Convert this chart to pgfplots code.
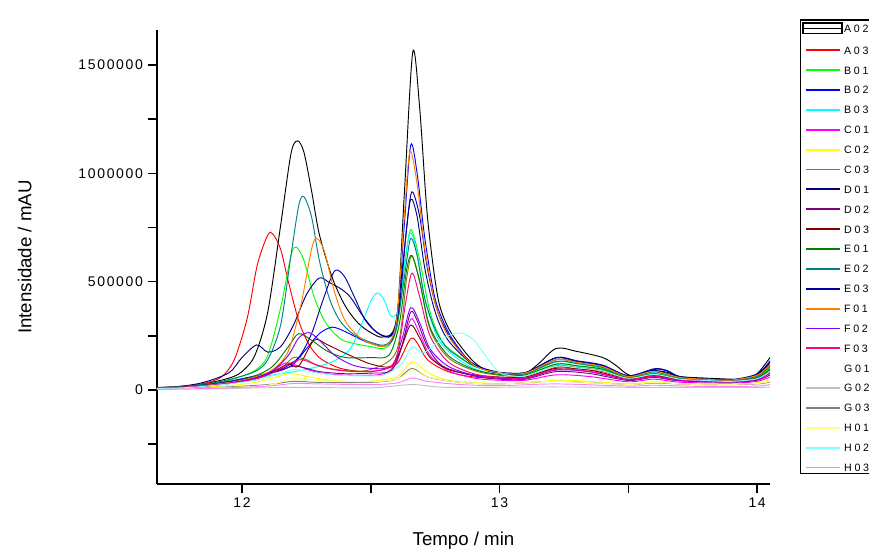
\documentclass[border=0pt]{standalone}
\usepackage{fontspec}
\setmainfont{Liberation Sans}
\newfontfamily\tickfont[LetterSpace=12]{Liberation Sans}
\newfontfamily\legfont[LetterSpace=25]{Liberation Sans}
\usepackage{pgfplots}
\pgfplotsset{compat=1.18}
\definecolor{cA02}{HTML}{000000}
\definecolor{cA03}{HTML}{FF0000}
\definecolor{cB01}{HTML}{00FF00}
\definecolor{cB02}{HTML}{0000FF}
\definecolor{cB03}{HTML}{00FFFF}
\definecolor{cC01}{HTML}{FF00FF}
\definecolor{cC02}{HTML}{FFFF00}
\definecolor{cC03}{HTML}{808000}
\definecolor{cD01}{HTML}{000080}
\definecolor{cD02}{HTML}{800080}
\definecolor{cD03}{HTML}{800000}
\definecolor{cE01}{HTML}{008000}
\definecolor{cE02}{HTML}{008080}
\definecolor{cE03}{HTML}{0000A0}
\definecolor{cF01}{HTML}{FF8000}
\definecolor{cF02}{HTML}{8000FF}
\definecolor{cF03}{HTML}{FF0080}
\definecolor{cG01}{HTML}{FFFFFF}
\definecolor{cG02}{HTML}{C0C0C0}
\definecolor{cG03}{HTML}{808080}
\definecolor{cH01}{HTML}{FFFF80}
\definecolor{cH02}{HTML}{80FFFF}
\definecolor{cH03}{HTML}{FF80FF}
\begin{document}
\begin{tikzpicture}
\begin{axis}[
  scale only axis, width=459.75pt, height=340.5pt,
  xmin=11.67, xmax=14.05, ymin=-434, ymax=1662,
  axis x line=bottom, axis y line=left,
  axis line style={-, line width=1.2pt},
  tick align=outside, major tick length=7pt,
  tick style={line width=1.2pt, black},
  xtick={12,12.5,13,13.5,14}, xticklabels={12,,13,,14},
  ytick={-250,0,250,500,750,1000,1250,1500},
  yticklabels={,0,,500000,,1000000,,1500000},
  tick label style={font=\tickfont\fontsize{10.5}{12}\selectfont},
  xlabel={Tempo / min}, ylabel={Intensidade / mAU},
  every axis x label/.style={at={(axis description cs:0.5,-0.1344)}, anchor=base, font=\fontsize{14}{16}\selectfont},
  every axis y label/.style={at={(axis description cs:-0.216,0.5)}, rotate=90, anchor=center, font=\fontsize{14}{16}\selectfont},
  every axis plot/.append style={line width=0.7pt, smooth, no markers},
  legend image code/.code={\draw[#1, line width=1.4pt] (0cm,0cm) -- (0.9cm,0cm);},
  legend cell align=left,
  legend style={at={(axis description cs:1,1)}, anchor=north west, xshift=22.5pt, yshift=8pt,
    draw=black, line width=1pt, inner xsep=1pt, inner ysep=1.5pt,
    font=\legfont\fontsize{8}{9}\selectfont,
    nodes={inner xsep=1pt, inner ysep=0pt, text height=5.8pt, text depth=0pt},
    row sep=9.1pt},
]
\addplot[cA02, legend image code/.code={\draw[black,line width=1.3pt] (-0.08cm,-0.14cm) rectangle (0.95cm,0.14cm); \draw[black,line width=0.8pt] (-0.08cm,0cm) -- (0.95cm,0cm);}] coordinates {(11.67,12)(11.75,16)(11.85,28)(11.95,55)(12.0,85)(12.05,160)(12.1,360)(12.15,760)(12.19,1090)(12.215,1150)(12.24,1100)(12.27,920)(12.3,720)(12.35,520)(12.4,390)(12.45,310)(12.5,265)(12.55,245)(12.6,320)(12.63,900)(12.663,1560)(12.69,1300)(12.72,800)(12.76,430)(12.8,290)(12.85,200)(12.9,130)(12.95,90)(13.0,80)(13.1,80)(13.15,120)(13.22,192)(13.3,178)(13.4,150)(13.45,115)(13.5,70)(13.55,68)(13.6,88)(13.65,82)(13.7,62)(13.8,55)(13.9,50)(13.95,50)(14.0,75)(14.05,150)};
\addlegendentry{A02}
\addplot[cA03] coordinates {(11.67,10)(11.75,15)(11.85,30)(11.92,60)(11.97,140)(12.02,330)(12.06,580)(12.1,715)(12.12,720)(12.15,650)(12.18,500)(12.22,320)(12.26,210)(12.3,150)(12.35,115)(12.4,95)(12.5,85)(12.6,120)(12.66,240)(12.72,140)(12.8,85)(12.9,60)(13.0,55)(13.1,55)(13.22,105)(13.3,98)(13.4,85)(13.5,55)(13.6,70)(13.7,50)(13.8,45)(13.9,40)(14.0,55)(14.05,95)};
\addlegendentry{A03}
\addplot[cB01] coordinates {(11.67,10)(11.75,14)(11.85,25)(11.95,45)(12.05,90)(12.1,160)(12.15,380)(12.19,620)(12.21,660)(12.24,600)(12.28,430)(12.32,320)(12.36,260)(12.4,225)(12.5,200)(12.56,195)(12.6,280)(12.63,560)(12.655,740)(12.69,600)(12.73,360)(12.78,220)(12.85,150)(12.9,110)(13.0,80)(13.1,75)(13.22,130)(13.3,122)(13.4,100)(13.5,60)(13.6,76)(13.7,55)(13.8,50)(13.9,45)(14.0,62)(14.05,105)};
\addlegendentry{B01}
\addplot[cB02] coordinates {(11.67,8)(11.75,12)(11.85,22)(11.95,40)(12.05,65)(12.15,90)(12.2,120)(12.25,190)(12.3,260)(12.35,290)(12.4,270)(12.45,240)(12.5,215)(12.56,205)(12.6,300)(12.63,760)(12.655,1130)(12.68,1000)(12.71,700)(12.75,420)(12.8,270)(12.85,180)(12.9,115)(13.0,78)(13.1,76)(13.22,140)(13.3,128)(13.4,110)(13.5,62)(13.6,95)(13.65,88)(13.7,60)(13.8,50)(13.9,46)(14.0,68)(14.05,118)};
\addlegendentry{B02}
\addplot[cB03] coordinates {(11.67,8)(11.8,15)(11.95,35)(12.05,55)(12.15,75)(12.25,95)(12.35,130)(12.42,190)(12.47,320)(12.5,410)(12.525,448)(12.55,420)(12.58,340)(12.61,380)(12.635,620)(12.655,725)(12.68,630)(12.71,420)(12.76,240)(12.82,160)(12.9,100)(13.0,70)(13.1,70)(13.22,118)(13.3,110)(13.4,95)(13.5,55)(13.6,80)(13.7,52)(13.8,45)(13.9,40)(14.0,52)(14.05,88)};
\addlegendentry{B03}
\addplot[cC01] coordinates {(11.67,5)(11.8,12)(11.95,30)(12.05,55)(12.12,90)(12.17,125)(12.22,110)(12.28,85)(12.35,72)(12.45,68)(12.55,75)(12.6,130)(12.64,280)(12.66,330)(12.69,260)(12.73,160)(12.8,90)(12.9,55)(13.0,45)(13.1,45)(13.22,70)(13.35,62)(13.5,38)(13.6,50)(13.7,36)(13.9,32)(14.0,40)(14.05,60)};
\addlegendentry{C01}
\addplot[cC02] coordinates {(11.67,4)(11.8,10)(11.95,20)(12.05,35)(12.12,55)(12.18,75)(12.22,70)(12.3,52)(12.4,40)(12.5,40)(12.6,60)(12.645,115)(12.665,130)(12.69,110)(12.73,75)(12.8,45)(12.9,35)(13.0,30)(13.1,30)(13.22,45)(13.35,40)(13.5,28)(13.6,38)(13.7,28)(13.9,26)(14.0,33)(14.05,48)};
\addlegendentry{C02}
\addplot[cC03] coordinates {(11.67,8)(11.8,15)(11.95,35)(12.05,60)(12.15,100)(12.2,150)(12.25,140)(12.3,110)(12.4,90)(12.5,95)(12.6,180)(12.64,520)(12.66,620)(12.69,500)(12.73,280)(12.8,150)(12.9,90)(13.0,68)(13.1,66)(13.22,112)(13.3,104)(13.4,90)(13.5,55)(13.6,72)(13.7,50)(13.8,44)(13.9,40)(14.0,55)(14.05,92)};
\addlegendentry{C03}
\addplot[cD01] coordinates {(11.67,10)(11.75,15)(11.85,35)(11.95,80)(12.0,150)(12.057,208)(12.1,175)(12.15,200)(12.2,300)(12.25,440)(12.3,517)(12.34,495)(12.38,470)(12.42,430)(12.47,340)(12.52,270)(12.57,250)(12.6,330)(12.635,700)(12.655,880)(12.68,800)(12.71,560)(12.75,360)(12.8,230)(12.9,115)(13.0,80)(13.1,80)(13.22,148)(13.3,132)(13.4,112)(13.5,66)(13.6,90)(13.7,60)(13.8,50)(13.9,45)(14.0,72)(14.05,128)};
\addlegendentry{D01}
\addplot[cD02] coordinates {(11.67,6)(11.8,12)(11.95,30)(12.05,50)(12.12,80)(12.2,110)(12.25,100)(12.3,85)(12.4,75)(12.5,78)(12.58,90)(12.62,200)(12.655,360)(12.68,320)(12.72,200)(12.78,110)(12.9,65)(13.0,50)(13.1,50)(13.22,85)(13.35,76)(13.5,44)(13.6,58)(13.7,42)(13.9,36)(14.0,45)(14.05,70)};
\addlegendentry{D02}
\addplot[cD03] coordinates {(11.67,8)(11.8,14)(11.95,32)(12.05,55)(12.12,85)(12.18,120)(12.22,110)(12.28,230)(12.33,210)(12.4,170)(12.5,120)(12.58,110)(12.62,200)(12.655,300)(12.69,240)(12.73,150)(12.8,95)(12.9,70)(13.0,60)(13.1,60)(13.22,100)(13.35,92)(13.5,52)(13.6,66)(13.7,48)(13.9,40)(14.0,52)(14.05,85)};
\addlegendentry{D03}
\addplot[cE01] coordinates {(11.67,9)(11.8,16)(11.95,38)(12.05,65)(12.12,110)(12.18,200)(12.22,260)(12.27,230)(12.33,180)(12.4,150)(12.5,150)(12.57,160)(12.61,300)(12.64,560)(12.66,620)(12.69,500)(12.73,290)(12.8,160)(12.9,95)(13.0,72)(13.1,70)(13.22,120)(13.3,112)(13.4,96)(13.5,58)(13.6,75)(13.7,52)(13.8,46)(13.9,42)(14.0,58)(14.05,98)};
\addlegendentry{E01}
\addplot[cE02] coordinates {(11.67,10)(11.75,14)(11.85,26)(11.95,48)(12.05,85)(12.1,140)(12.15,300)(12.19,620)(12.22,850)(12.24,893)(12.27,800)(12.3,600)(12.34,420)(12.38,320)(12.43,260)(12.5,220)(12.56,210)(12.6,290)(12.635,560)(12.655,700)(12.68,620)(12.71,420)(12.75,280)(12.8,190)(12.9,112)(13.0,80)(13.1,76)(13.22,132)(13.3,122)(13.4,104)(13.5,62)(13.6,84)(13.7,56)(13.8,50)(13.9,45)(14.0,64)(14.05,110)};
\addlegendentry{E02}
\addplot[cE03] coordinates {(11.67,9)(11.8,16)(11.95,38)(12.05,60)(12.15,95)(12.22,150)(12.27,260)(12.31,400)(12.35,530)(12.37,554)(12.4,520)(12.44,420)(12.48,320)(12.53,260)(12.58,250)(12.61,380)(12.64,760)(12.66,915)(12.69,800)(12.72,560)(12.76,360)(12.82,220)(12.9,120)(13.0,82)(13.1,80)(13.22,150)(13.3,135)(13.4,115)(13.5,66)(13.6,98)(13.65,90)(13.7,62)(13.8,52)(13.9,48)(14.0,74)(14.05,135)};
\addlegendentry{E03}
\addplot[cF01] coordinates {(11.67,9)(11.8,15)(11.95,35)(12.05,60)(12.12,95)(12.18,180)(12.23,400)(12.27,650)(12.29,700)(12.32,640)(12.36,450)(12.4,320)(12.45,250)(12.5,215)(12.56,205)(12.6,320)(12.63,800)(12.652,1100)(12.68,950)(12.71,650)(12.75,400)(12.8,250)(12.9,115)(13.0,80)(13.1,78)(13.22,140)(13.3,128)(13.4,108)(13.5,62)(13.6,86)(13.7,58)(13.8,50)(13.9,46)(14.0,68)(14.05,116)};
\addlegendentry{F01}
\addplot[cF02] coordinates {(11.67,7)(11.8,13)(11.95,32)(12.05,55)(12.12,90)(12.18,160)(12.22,240)(12.26,265)(12.3,230)(12.36,160)(12.43,115)(12.5,100)(12.58,110)(12.62,230)(12.655,380)(12.69,310)(12.73,190)(12.8,110)(12.9,68)(13.0,55)(13.1,54)(13.22,92)(13.35,84)(13.5,48)(13.6,62)(13.7,44)(13.9,38)(14.0,48)(14.05,78)};
\addlegendentry{F02}
\addplot[cF03] coordinates {(11.67,7)(11.8,13)(11.95,30)(12.05,50)(12.12,80)(12.18,120)(12.23,140)(12.28,120)(12.35,95)(12.45,85)(12.55,95)(12.6,150)(12.635,400)(12.66,540)(12.69,430)(12.73,250)(12.8,130)(12.9,75)(13.0,58)(13.1,56)(13.22,95)(13.35,86)(13.5,50)(13.6,64)(13.7,46)(13.9,40)(14.0,50)(14.05,80)};
\addlegendentry{F03}
\addplot[cG01] coordinates {(11.67,3)(12.0,10)(12.66,40)(13.2,20)(14.05,25)};
\addlegendentry{G01}
\addplot[cG02] coordinates {(11.67,3)(11.9,6)(12.2,12)(12.5,10)(12.66,25)(12.8,12)(13.2,14)(13.6,12)(14.0,12)(14.05,15)};
\addlegendentry{G02}
\addplot[cG03] coordinates {(11.67,5)(11.9,12)(12.1,25)(12.2,40)(12.3,35)(12.5,35)(12.6,50)(12.66,100)(12.72,60)(12.85,35)(13.0,28)(13.22,40)(13.5,26)(13.6,32)(13.8,24)(14.0,28)(14.05,38)};
\addlegendentry{G03}
\addplot[cH01] coordinates {(11.67,4)(11.9,10)(12.1,22)(12.2,55)(12.3,45)(12.5,38)(12.6,50)(12.665,90)(12.72,60)(12.85,35)(13.0,28)(13.22,40)(13.5,26)(13.6,34)(13.8,24)(14.0,30)(14.05,42)};
\addlegendentry{H01}
\addplot[cH02] coordinates {(11.67,6)(11.8,12)(11.95,28)(12.05,45)(12.15,75)(12.2,95)(12.26,85)(12.35,70)(12.45,65)(12.55,70)(12.62,120)(12.66,200)(12.7,170)(12.75,210)(12.8,250)(12.85,263)(12.9,230)(12.95,150)(13.0,80)(13.05,65)(13.1,65)(13.22,110)(13.3,102)(13.4,88)(13.5,54)(13.6,72)(13.7,50)(13.8,44)(13.9,40)(14.0,52)(14.05,86)};
\addlegendentry{H02}
\addplot[cH03] coordinates {(11.67,3)(11.9,8)(12.1,18)(12.2,30)(12.3,28)(12.5,25)(12.6,32)(12.66,55)(12.72,40)(12.85,25)(13.0,20)(13.22,28)(13.5,18)(13.6,22)(13.8,16)(14.0,18)(14.05,26)};
\addlegendentry{H03}
\coordinate (bl) at (rel axis cs:0,0);
\coordinate (tr) at (rel axis cs:1,1);
\end{axis}
\pgfresetboundingbox
\useasboundingbox ([shift={(-117.75pt,-54pt)}]bl) rectangle ([shift={(74.25pt,22.5pt)}]tr);
\end{tikzpicture}
\end{document}
